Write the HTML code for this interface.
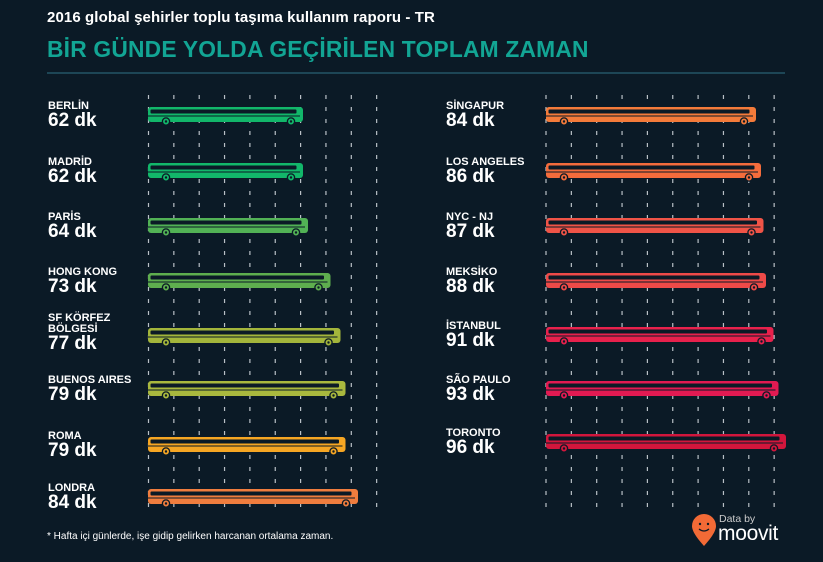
<!DOCTYPE html>
<html><head><meta charset="utf-8"><style>
body{margin:0;background:#0b1a26;width:823px;height:562px;overflow:hidden;font-family:"Liberation Sans",sans-serif;position:relative}
.t1{position:absolute;left:47px;top:9px;color:#fff;font-size:15px;font-weight:bold;letter-spacing:0.1px}
.t2{position:absolute;left:47px;top:36px;color:#12a594;font-size:22.8px;font-weight:bold;letter-spacing:0.2px}
.hr{position:absolute;left:47px;top:72px;width:738px;height:2px;background:#1d4656}
.lab{position:absolute;color:#fff;font-weight:bold}
.lab .c{font-size:11px;line-height:11px}
.lab .n{font-size:19px;line-height:18px}
.foot{position:absolute;left:47px;top:531px;color:#fff;font-size:10px}
svg{position:absolute;left:0;top:0}
</style></head><body>
<div class="t1">2016 global şehirler toplu taşıma kullanım raporu - TR</div>
<div class="t2">BİR GÜNDE YOLDA GEÇİRİLEN TOPLAM ZAMAN</div>
<div class="hr"></div>
<svg id="s" width="823" height="562"></svg>
<div class="lab" style="left:48px;top:101px"><div class="c">BERLİN</div><div class="n">62 dk</div></div>
<div class="lab" style="left:48px;top:157px"><div class="c">MADRİD</div><div class="n">62 dk</div></div>
<div class="lab" style="left:48px;top:212px"><div class="c">PARİS</div><div class="n">64 dk</div></div>
<div class="lab" style="left:48px;top:267px"><div class="c">HONG KONG</div><div class="n">73 dk</div></div>
<div class="lab" style="left:48px;top:313px"><div class="c">SF KÖRFEZ<br>BÖLGESİ</div><div class="n">77 dk</div></div>
<div class="lab" style="left:48px;top:375px"><div class="c">BUENOS AIRES</div><div class="n">79 dk</div></div>
<div class="lab" style="left:48px;top:431px"><div class="c">ROMA</div><div class="n">79 dk</div></div>
<div class="lab" style="left:48px;top:483px"><div class="c">LONDRA</div><div class="n">84 dk</div></div>
<div class="lab" style="left:446px;top:101px"><div class="c">SİNGAPUR</div><div class="n">84 dk</div></div>
<div class="lab" style="left:446px;top:157px"><div class="c">LOS ANGELES</div><div class="n">86 dk</div></div>
<div class="lab" style="left:446px;top:212px"><div class="c">NYC - NJ</div><div class="n">87 dk</div></div>
<div class="lab" style="left:446px;top:267px"><div class="c">MEKSİKO</div><div class="n">88 dk</div></div>
<div class="lab" style="left:446px;top:321px"><div class="c">İSTANBUL</div><div class="n">91 dk</div></div>
<div class="lab" style="left:446px;top:375px"><div class="c">SÃO PAULO</div><div class="n">93 dk</div></div>
<div class="lab" style="left:446px;top:428px"><div class="c">TORONTO</div><div class="n">96 dk</div></div>
<div class="foot">* Hafta içi günlerde, işe gidip gelirken harcanan ortalama zaman.</div>
<div style="position:absolute;left:719px;top:513px;color:#ccc;font-size:10.5px">Data by</div>
<div style="position:absolute;left:718px;top:522px;color:#fff;font-size:21px;letter-spacing:-0.3px">moovit</div>
<svg width="823" height="562" style="pointer-events:none"><path d="M704 546 C695 536 692 530 692 526 A12 12 0 0 1 716 526 C716 530 713 536 704 546Z" fill="#f26a36"/><circle cx="700" cy="524" r="1.2" fill="#0b1a26"/><circle cx="708" cy="524" r="1.2" fill="#0b1a26"/><path d="M699 529 Q704 533 709 529" stroke="#0b1a26" fill="none" stroke-width="1.2"/></svg>
<script>
var s=document.getElementById('s'),h='';
function dash(x0,y1){for(var i=0;i<10;i++){var x=x0+i*25.35;h+='<line x1="'+x+'" y1="95" x2="'+x+'" y2="'+y1+'" stroke="#b9c0c6" stroke-width="1.2" stroke-dasharray="4,8"/>';}}
dash(148.5,515);dash(546,515);
function bus(x0,v,yc,c){var w=v*2.5,x1=x0+w,y=yc-8,d='#0b1a26';
h+='<rect x="'+x0+'" y="'+y+'" width="'+w+'" height="15" rx="3" fill="'+c+'"/>';
h+='<rect x="'+(x0+2.5)+'" y="'+(y+2.5)+'" width="'+(w-9)+'" height="4" rx="1" fill="'+d+'"/>';
h+='<rect x="'+x0+'" y="'+(y+8.5)+'" width="'+(w-3)+'" height="1" fill="'+d+'"/>';
[x0+18,x1-12].forEach(function(cx){h+='<circle cx="'+cx+'" cy="'+(y+14.5)+'" r="3.6" fill="'+c+'" stroke="'+d+'" stroke-width="1.3"/><circle cx="'+cx+'" cy="'+(y+14.5)+'" r="1.2" fill="'+d+'"/>';});}
[[62,115,'#12b76a'],[62,171,'#12b76a'],[64,226,'#52b255'],[73,281,'#5eae4e'],[77,336,'#a3b53b'],[79,389,'#a9b83e'],[79,445,'#f6a623'],[84,497,'#f07d3e']].forEach(function(a){bus(148,a[0],a[1],a[2]);});
[[84,115,'#f47b3a'],[86,171,'#f46c3c'],[87,226,'#f05447'],[88,281,'#ee4a48'],[91,335,'#e8214c'],[93,389,'#e21a52'],[96,442,'#d2163c']].forEach(function(a){bus(546,a[0],a[1],a[2]);});
s.innerHTML=h;
</script>
</body></html>
